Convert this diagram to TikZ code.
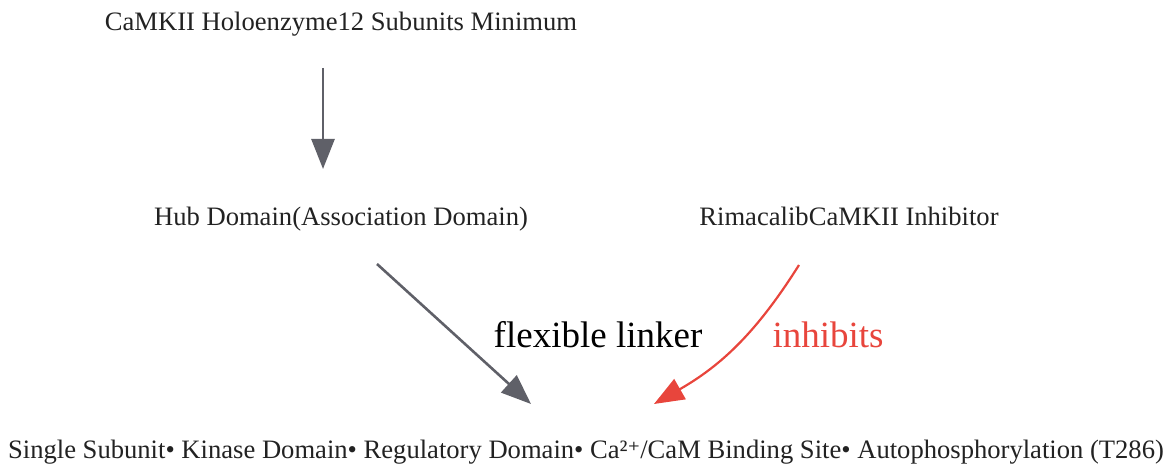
\documentclass[tikz,border=0pt]{standalone}
\usepackage{fontspec}
\setmainfont{Liberation Serif}
\newfontfamily\supfont{DejaVu Serif}
\usetikzlibrary{arrows.meta}

\definecolor{linkgray}{HTML}{5F6068}
\definecolor{inhred}{HTML}{E8453C}
\definecolor{txtdark}{HTML}{222222}

\tikzset{
  box/.style={font=\fontsize{26.6}{30}\selectfont, text=txtdark, inner sep=0pt,
    text height=19pt, text depth=6pt},
  lbl/.style={font=\fontsize{37}{42}\selectfont, inner sep=0pt},
  link/.style={-{Triangle[length=30pt,width=23pt]}, line width=2.6pt, draw=linkgray},
  inhib/.style={-{Triangle[length=30pt,width=23pt]}, line width=2.2pt, draw=inhred},
}

\begin{document}
\begin{tikzpicture}[x=1pt, y=1pt]
    \useasboundingbox (0,0) rectangle (1169,468);

    \node[box] (holo) at (341,444) {CaMKII Holoenzyme12 Subunits Minimum};
    \node[box] (hub) at (341,249) {Hub Domain(Association Domain)};
    \node[box] (rima) at (849,249) {RimacalibCaMKII Inhibitor};
    \node[box] (single) at (586,16) {Single Subunit• Kinase Domain• Regulatory Domain• Ca²{\supfont\fontsize{24}{28}\selectfont ⁺}/CaM Binding Site• Autophosphorylation (T286)};

    \draw[link] ([xshift=-18pt,yshift=-44pt]holo.center) -- ([xshift=-18pt,yshift=50pt]hub.center);
    \draw[link] ([shift={(36pt,-45pt)}]hub.center) -- ([shift={(-55pt,48pt)}]single.center);
    \draw[inhib] ([shift={(-50pt,-46pt)}]rima.center) to[bend left=14] ([shift={(68pt,48pt)}]single.center);

    \node[lbl] (flex) at (598,133) {flexible linker};
    \node[lbl, text=inhred] (inh) at (828,133) {inhibits};
\end{tikzpicture}
\end{document}
